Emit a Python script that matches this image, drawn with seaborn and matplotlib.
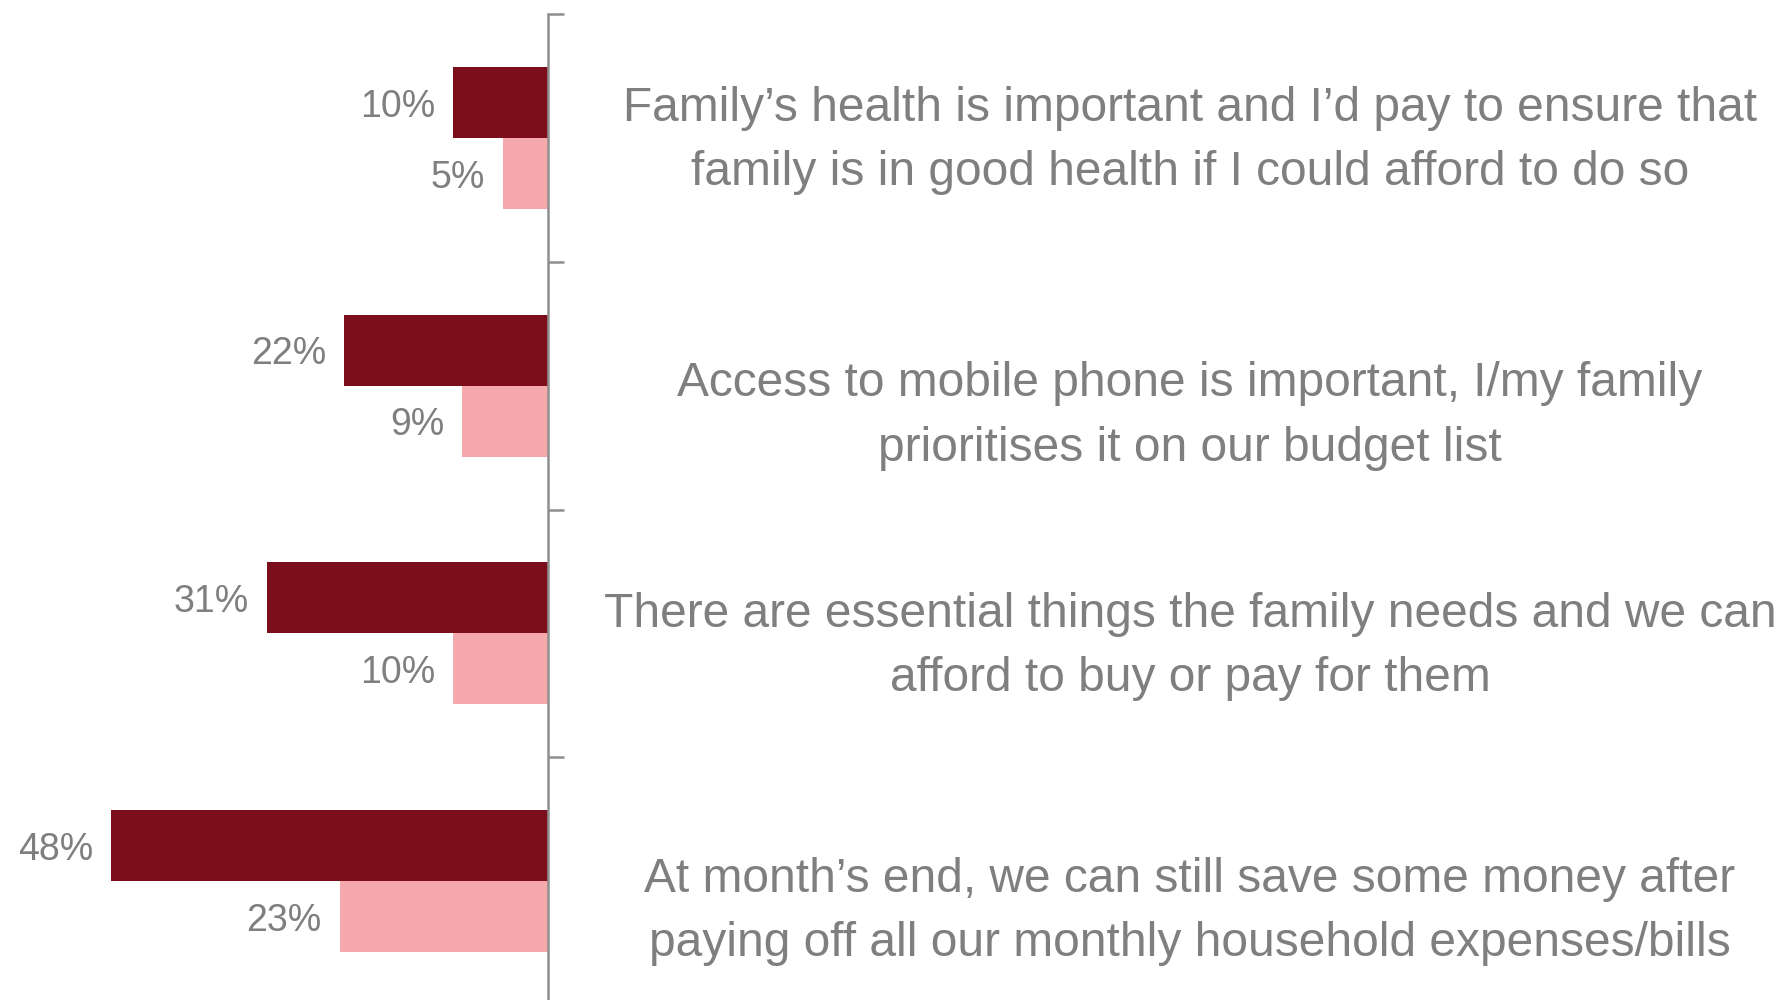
import matplotlib
matplotlib.use("Agg")
import matplotlib.pyplot as plt
import matplotlib.transforms as mtransforms
import seaborn as sns
import pandas as pd

statements = [
    "Family\u2019s health is important and I\u2019d pay to ensure that\nfamily is in good health if I could afford to do so",
    "Access to mobile phone is important, I/my family\nprioritises it on our budget list",
    "There are essential things the family needs and we can\nafford to buy or pay for them",
    "At month\u2019s end, we can still save some money after\npaying off all our monthly household expenses/bills",
]
series_names = ["Series A", "Series B"]
dark_values = [10.4, 22.4, 30.9, 48.0]
light_values = [4.9, 9.4, 10.4, 22.9]

DARK = "#7B0E1A"
LIGHT = "#F5A9AD"
GRAY = "#7F7F7F"

rows = []
for i, s in enumerate(statements):
    rows.append({"cat": i, "series": series_names[0], "value": dark_values[i]})
    rows.append({"cat": i, "series": series_names[1], "value": light_values[i]})
df = pd.DataFrame(rows)

sns.set_theme(style="white")
plt.rcParams["font.family"] = ["Liberation Sans", "DejaVu Sans"]

fig = plt.figure(figsize=(17.83, 10), dpi=100)
ax = fig.add_axes([0.0, -0.005, 548 / 1783, 0.991])

sns.barplot(data=df, y="cat", x="value", hue="series", orient="h",
            palette=[DARK, LIGHT], width=0.573, linewidth=0, saturation=1,
            legend=False, ax=ax, order=[0, 1, 2, 3])

ax.set_xlim(60.2, 0)
ax.set_ylim(3.5, -0.5)

for container in ax.containers:
    texts = ax.bar_label(container, labels=[f"{v:.0f}%" for v in container.datavalues],
                         padding=13, fontsize=27, color=GRAY)
    for t in texts:
        x0, y0 = t.xyann
        t.xyann = (x0, y0 - 3.0)

for side in ["top", "bottom", "left"]:
    ax.spines[side].set_visible(False)
ax.spines["right"].set_visible(True)
ax.spines["right"].set_color("#8F8F8F")
ax.spines["right"].set_linewidth(1.8)

ax.set_xticks([])
ax.yaxis.tick_right()
ax.set_yticks([-0.5, 0.5, 1.5, 2.5])
ax.set_yticklabels([])
ax.tick_params(axis="y", direction="out", length=11.5, width=1.8, color="#8F8F8F", right=True, left=False)
ax.set_xlabel("")
ax.set_ylabel("")
ax.patch.set_alpha(0)

trans = mtransforms.blended_transform_factory(fig.transFigure, ax.transData)
offsets = [0.01, 0.123, 0.054, 0.123]
for i, s in enumerate(statements):
    ax.text(1190 / 1783, i + offsets[i], s, transform=trans, ha="center", va="center",
            fontsize=34.5, color=GRAY, linespacing=1.55, clip_on=False)

fig.savefig("out.png", dpi=100)
